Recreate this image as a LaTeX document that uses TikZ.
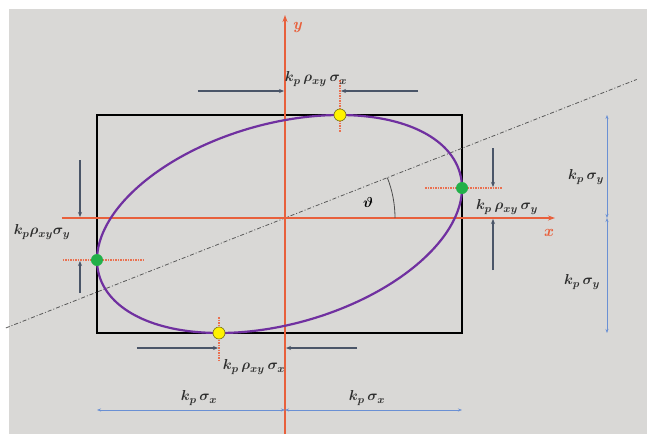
\documentclass[tikz,border=0pt]{standalone}
\usepackage{xcolor}
\usepackage{tikz}
\usetikzlibrary{arrows.meta, positioning}
\definecolor{axisred}   {HTML}{E8603C}
\definecolor{ellpurple} {HTML}{7030A0}
\definecolor{darkarrow} {HTML}{4A5568}
\definecolor{dimblue}   {HTML}{6A90D4}
\definecolor{bggray}    {HTML}{D9D8D6}
\definecolor{dotyellow} {HTML}{FFF200}
\definecolor{dotgreen}  {HTML}{22B04A}
\definecolor{labelgray} {HTML}{2E2E2E}

\begin{document}
\begin{tikzpicture}[
    x=1pt, y=1pt,
    axis/.style={draw=axisred, line width=1.8pt,
                 -{Stealth[length=7pt, width=5pt]}},
    frame/.style={draw=black, line width=1.3pt},
    ell/.style={draw=ellpurple, line width=2.2pt},
    dashdot/.style={draw=black!65, line width=0.8pt,
                    dash pattern=on 4pt off 2pt on 1pt off 2pt},
    redline/.style={draw=axisred!90!white, line width=1.4pt,
                    dash pattern=on 1.5pt off 1pt},
    ydot/.style={circle, fill=dotyellow, draw=olive!80!black,
                 line width=0.6pt, minimum size=12pt, inner sep=0pt},
    gdot/.style={circle, fill=dotgreen, minimum size=12pt, inner sep=0pt},
    arr/.style={-{Stealth[length=5pt, width=4pt]}, line width=1.2pt,
                color=darkarrow},
    dimarr/.style={{Stealth[length=4pt, width=3pt]}-{Stealth[length=4pt, width=3pt]},
                   line width=1pt, color=dimblue},
    lbl/.style={font=\fontsize{15}{17}\selectfont\boldmath, text=labelgray, inner sep=1pt},
    axlbl/.style={font=\fontsize{16}{18}\selectfont\bfseries\itshape,
                  text=axisred, inner sep=1pt},
  ]
    \useasboundingbox (-285,-216) rectangle (362,218);
    \fill[bggray] (-276,-216) rectangle (362,209);

    % ellipse parameters
    \def\ea{182.5}
    \def\eb{109}
    \def\erho{0.33}
    \coordinate (c) at (-5.5,-6);
    \coordinate (o) at (0,0);

    % bounding rectangle
    \draw[frame] (-188,-115) rectangle (177,103);

    % major axis direction
    \coordinate (dl) at (201.5:300);
    \coordinate (dr) at (21.5:378);
    \draw[dashdot] (dl) -- (dr);

    % axes
    \coordinate (xa0) at (-223,0);
    \coordinate (xa1) at (270,0);
    \coordinate (ya0) at (0,-216);
    \coordinate (ya1) at (0,203);
    \draw[axis] (xa0) -- (xa1);
    \draw[axis] (ya0) -- (ya1);
    \node[axlbl] (xlbl) at (263,-15) {x};
    \node[axlbl] (ylbl) at (12,190) {y};

    % angle
    \draw[black!70, line width=0.8pt] (110,0) arc[start angle=0, end angle=21.5, radius=110];
    \node[lbl, text=black] (theta) at (83,16) {$\vartheta$};

    % ellipse
    \draw[ell, shift={(c)}] plot[domain=0:360, samples=120, smooth]
      ({\ea*cos(\x)}, {\eb*(\erho*cos(\x) + sqrt(1-\erho*\erho)*sin(\x))}) -- cycle;

    % tangent points
    \coordinate (ptop)   at (55,103);
    \coordinate (pbot)   at (-66,-115);
    \coordinate (pright) at (177,30);
    \coordinate (pleft)  at (-188,-42);

    \draw[redline] (55,138)  -- (55,86);
    \draw[redline] (-66,-99) -- (-66,-142);
    \draw[redline] (-222,-42)  -- (-140,-42);
    \draw[redline] (140,30)    -- (217,30);

    \node[ydot] (ntop)   at (ptop)   {};
    \node[ydot] (nbot)   at (pbot)   {};
    \node[gdot] (nright) at (pright) {};
    \node[gdot] (nleft)  at (pleft)  {};

    % k_p rho sigma_x  (top)
    \coordinate (ta0) at (-87,127);
    \coordinate (ta1) at (-1,127);
    \coordinate (tb0) at (133,127);
    \coordinate (tb1) at (56,127);
    \draw[arr] (ta0) -- (ta1);
    \draw[arr] (tb0) -- (tb1);
    \node[lbl] (lbltop) at (31,139) {$k_p\,\rho_{xy}\,\sigma_x$};

    % k_p rho sigma_x  (bottom)
    \coordinate (ba0) at (-148,-130);
    \coordinate (ba1) at (-67,-130);
    \coordinate (bb0) at (72,-130);
    \coordinate (bb1) at (1,-130);
    \draw[arr] (ba0) -- (ba1);
    \draw[arr] (bb0) -- (bb1);
    \node[lbl] (lblbot) at (-31,-149) {$k_p\,\rho_{xy}\,\sigma_x$};

    % k_p rho sigma_y  (left)
    \coordinate (la0) at (-205,58);
    \coordinate (la1) at (-205,1);
    \coordinate (lb0) at (-205,-75);
    \coordinate (lb1) at (-205,-43);
    \draw[arr] (la0) -- (la1);
    \draw[arr] (lb0) -- (lb1);
    \node[lbl] (lblleft) at (-243,-14) {$k_p\rho_{xy}\sigma_y$};

    % k_p rho sigma_y  (right)
    \coordinate (ra0) at (208,70);
    \coordinate (ra1) at (208,31);
    \coordinate (rb0) at (208,-52);
    \coordinate (rb1) at (208,-1);
    \draw[arr] (ra0) -- (ra1);
    \draw[arr] (rb0) -- (rb1);
    \node[lbl] (lblright) at (222,11) {$k_p\,\rho_{xy}\,\sigma_y$};

    % k_p sigma_y  dimensions
    \coordinate (sy0) at (322,103);
    \coordinate (sy1) at (322,0);
    \coordinate (sy2) at (322,-115);
    \draw[dimarr] (sy0) -- (sy1);
    \draw[dimarr] (sy1) -- (sy2);
    \node[lbl] (lblsy1) at (301,41)  {$k_p\,\sigma_y$};
    \node[lbl] (lblsy2) at (297,-64) {$k_p\,\sigma_y$};

    % k_p sigma_x  dimensions
    \coordinate (sx0) at (-188,-192);
    \coordinate (sx1) at (0,-192);
    \coordinate (sx2) at (177,-192);
    \draw[dimarr] (sx0) -- (sx1);
    \draw[dimarr] (sx1) -- (sx2);
    \node[lbl] (lblsx1) at (-86,-180) {$k_p\,\sigma_x$};
    \node[lbl] (lblsx2) at (82,-180)  {$k_p\,\sigma_x$};
  \end{tikzpicture}
\end{document}
